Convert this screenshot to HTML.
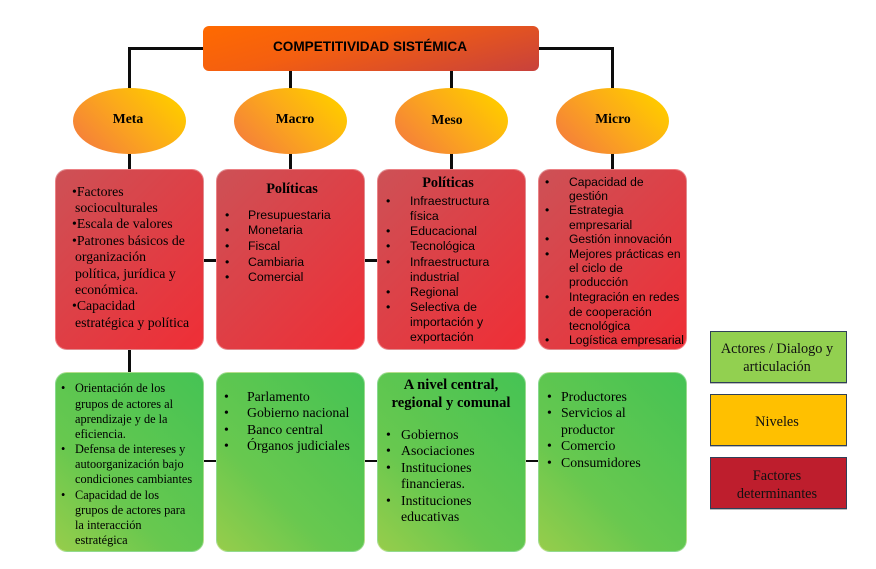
<!DOCTYPE html>
<html lang="es"><head><meta charset="utf-8"><title>Competitividad sistémica</title>
<style>
html,body{margin:0;padding:0;background:#fff;width:876px;height:569px;overflow:hidden}
#p{position:relative;width:876px;height:569px;overflow:hidden;color:#000;font-family:"Liberation Serif",serif;font-size:12.5px}
#p div{position:absolute;box-sizing:border-box}
.l{background:#0c0c0c}
.r,.g{width:149px;border-radius:12px;border:1px solid rgba(255,255,255,.35)}
.r{top:169px;height:181px;background:linear-gradient(135deg,#cd5156,#ef2e36)}
.g{top:372px;height:180px;background:linear-gradient(45deg,#97cd4b 0%,#68c84f 35%,#45c354 100%)}
.e{top:88px;width:113px;height:66px;border-radius:50%;background:linear-gradient(45deg,#f5803a 10%,#fba81c 50%,#ffc800 85%)}
.k{width:137px;border:1.5px solid #2f4058;box-shadow:0 1px 0 #bbb}
#p div.t{height:16px;line-height:16px;white-space:nowrap;margin-top:1px}
.s{font-family:"Liberation Sans",sans-serif;font-size:12.3px}
.u{font-family:"Liberation Sans",sans-serif;font-size:12.1px}
.c{transform:translateX(-50%)}
.b{font-weight:bold;font-size:14.3px}
.m{font-size:12.3px}
.n{font-size:13.8px}
.z{font-size:14.3px;color:#111}
</style></head><body><div id="p">

<div class="l" style="left:128px;top:47px;width:76px;height:3px"></div>
<div class="l" style="left:128px;top:47px;width:3px;height:42px"></div>
<div class="l" style="left:538px;top:47px;width:76px;height:3px"></div>
<div class="l" style="left:611px;top:47px;width:3px;height:42px"></div>
<div class="l" style="left:289px;top:70px;width:3px;height:19px"></div>
<div class="l" style="left:450px;top:70px;width:3px;height:19px"></div>
<div class="l" style="left:128px;top:153px;width:3px;height:17px"></div>
<div class="l" style="left:289px;top:153px;width:3px;height:17px"></div>
<div class="l" style="left:450px;top:153px;width:3px;height:17px"></div>
<div class="l" style="left:611px;top:153px;width:3px;height:17px"></div>
<div class="l" style="left:128px;top:349px;width:3px;height:24px"></div>
<div class="l" style="left:203px;top:259px;width:14px;height:3px"></div>
<div class="l" style="left:362px;top:259px;width:17px;height:3px"></div>
<div class="l" style="left:203px;top:460px;width:14px;height:2px"></div>
<div class="l" style="left:364px;top:460px;width:14px;height:2px"></div>
<div class="l" style="left:525px;top:460px;width:14px;height:2px"></div>

<div style="left:203px;top:26px;width:336px;height:45px;border-radius:6px;background:linear-gradient(165deg,#ff6a00 0%,#f45f10 40%,#c8413c 100%)"></div>
<div class="t c" style="left:370px;top:38px;font-family:'Liberation Sans',sans-serif;font-weight:bold;font-size:13.6px">COMPETITIVIDAD SISTÉMICA</div>

<div class="e" style="left:73px"></div>
<div class="e" style="left:234px"></div>
<div class="e" style="left:395px"></div>
<div class="e" style="left:556px"></div>
<div class="t c b" style="left:128px;top:110px;font-size:13.7px">Meta</div>
<div class="t c b" style="left:295px;top:110px;font-size:13.7px">Macro</div>
<div class="t c b" style="left:447px;top:111px;font-size:13.7px">Meso</div>
<div class="t c b" style="left:613px;top:110px;font-size:13.7px">Micro</div>

<div class="r" style="left:55px"></div>
<div class="r" style="left:216px"></div>
<div class="r" style="left:377px"></div>
<div class="r" style="left:538px"></div>

<div class="t n" style="left:72px;top:183px">•Factores</div>
<div class="t n" style="left:75px;top:199px">socioculturales</div>
<div class="t n" style="left:72px;top:215px">•Escala de valores</div>
<div class="t n" style="left:72px;top:232px">•Patrones básicos de</div>
<div class="t n" style="left:75px;top:248px">organización</div>
<div class="t n" style="left:75px;top:265px">política, jurídica y</div>
<div class="t n" style="left:75px;top:281px">económica.</div>
<div class="t n" style="left:72px;top:297px">•Capacidad</div>
<div class="t n" style="left:75px;top:314px">estratégica y política</div>

<div class="t c b" style="left:292px;top:180px">Políticas</div>
<div class="t s" style="left:225px;top:206px">•</div><div class="t s" style="left:248px;top:206px">Presupuestaria</div>
<div class="t s" style="left:225px;top:221px">•</div><div class="t s" style="left:248px;top:221px">Monetaria</div>
<div class="t s" style="left:225px;top:237px">•</div><div class="t s" style="left:248px;top:237px">Fiscal</div>
<div class="t s" style="left:225px;top:253px">•</div><div class="t s" style="left:248px;top:253px">Cambiaria</div>
<div class="t s" style="left:225px;top:268px">•</div><div class="t s" style="left:248px;top:268px">Comercial</div>

<div class="t c b" style="left:448px;top:174px">Políticas</div>
<div class="t s" style="left:386px;top:192px">•</div><div class="t s" style="left:410px;top:192px">Infraestructura</div>
<div class="t s" style="left:410px;top:207px">física</div>
<div class="t s" style="left:386px;top:222px">•</div><div class="t s" style="left:410px;top:222px">Educacional</div>
<div class="t s" style="left:386px;top:237px">•</div><div class="t s" style="left:410px;top:237px">Tecnológica</div>
<div class="t s" style="left:386px;top:253px">•</div><div class="t s" style="left:410px;top:253px">Infraestructura</div>
<div class="t s" style="left:410px;top:268px">industrial</div>
<div class="t s" style="left:386px;top:283px">•</div><div class="t s" style="left:410px;top:283px">Regional</div>
<div class="t s" style="left:386px;top:298px">•</div><div class="t s" style="left:410px;top:298px">Selectiva de</div>
<div class="t s" style="left:410px;top:313px">importación y</div>
<div class="t s" style="left:410px;top:328px">exportación</div>

<div class="t u" style="left:545px;top:173px">•</div><div class="t u" style="left:569px;top:173px">Capacidad de</div>
<div class="t u" style="left:569px;top:187px">gestión</div>
<div class="t u" style="left:545px;top:201px">•</div><div class="t u" style="left:569px;top:201px">Estrategia</div>
<div class="t u" style="left:569px;top:216px">empresarial</div>
<div class="t u" style="left:545px;top:230px">•</div><div class="t u" style="left:569px;top:230px">Gestión innovación</div>
<div class="t u" style="left:545px;top:245px">•</div><div class="t u" style="left:569px;top:245px">Mejores prácticas en</div>
<div class="t u" style="left:569px;top:259px">el ciclo de</div>
<div class="t u" style="left:569px;top:273px">producción</div>
<div class="t u" style="left:545px;top:288px">•</div><div class="t u" style="left:569px;top:288px">Integración en redes</div>
<div class="t u" style="left:569px;top:303px">de cooperación</div>
<div class="t u" style="left:569px;top:317px">tecnológica</div>
<div class="t u" style="left:545px;top:331px">•</div><div class="t u" style="left:569px;top:331px">Logística empresarial</div>

<div class="g" style="left:55px"></div>
<div class="g" style="left:216px"></div>
<div class="g" style="left:377px"></div>
<div class="g" style="left:538px"></div>

<div class="t m" style="left:61px;top:379px">•</div><div class="t m" style="left:75px;top:379px">Orientación de los</div>
<div class="t m" style="left:75px;top:395px">grupos de actores al</div>
<div class="t m" style="left:75px;top:410px">aprendizaje y de la</div>
<div class="t m" style="left:75px;top:425px">eficiencia.</div>
<div class="t m" style="left:61px;top:440px">•</div><div class="t m" style="left:75px;top:440px">Defensa de intereses y</div>
<div class="t m" style="left:75px;top:455px">autoorganización  bajo</div>
<div class="t m" style="left:75px;top:470px">condiciones cambiantes</div>
<div class="t m" style="left:61px;top:486px">•</div><div class="t m" style="left:75px;top:486px">Capacidad de los</div>
<div class="t m" style="left:75px;top:501px">grupos de actores para</div>
<div class="t m" style="left:75px;top:516px">la interacción</div>
<div class="t m" style="left:75px;top:531px">estratégica</div>

<div class="t n" style="left:224px;top:388px">•</div><div class="t n" style="left:247px;top:388px">Parlamento</div>
<div class="t n" style="left:224px;top:404px">•</div><div class="t n" style="left:247px;top:404px">Gobierno nacional</div>
<div class="t n" style="left:224px;top:421px">•</div><div class="t n" style="left:247px;top:421px">Banco central</div>
<div class="t n" style="left:224px;top:437px">•</div><div class="t n" style="left:247px;top:437px">Órganos judiciales</div>

<div class="t c b" style="left:451px;top:376px;font-size:14.6px">A nivel central,</div>
<div class="t c b" style="left:451px;top:394px;font-size:14.6px">regional y comunal</div>
<div class="t n" style="left:386px;top:426px">•</div><div class="t n" style="left:401px;top:426px">Gobiernos</div>
<div class="t n" style="left:386px;top:442px">•</div><div class="t n" style="left:401px;top:442px">Asociaciones</div>
<div class="t n" style="left:386px;top:459px">•</div><div class="t n" style="left:401px;top:459px">Instituciones</div>
<div class="t n" style="left:401px;top:475px">financieras.</div>
<div class="t n" style="left:386px;top:492px">•</div><div class="t n" style="left:401px;top:492px">Instituciones</div>
<div class="t n" style="left:401px;top:508px">educativas</div>

<div class="t n" style="left:547px;top:388px">•</div><div class="t n" style="left:561px;top:388px">Productores</div>
<div class="t n" style="left:547px;top:404px">•</div><div class="t n" style="left:561px;top:404px">Servicios al</div>
<div class="t n" style="left:561px;top:421px">productor</div>
<div class="t n" style="left:547px;top:437px">•</div><div class="t n" style="left:561px;top:437px">Comercio</div>
<div class="t n" style="left:547px;top:454px">•</div><div class="t n" style="left:561px;top:454px">Consumidores</div>

<div class="k" style="left:710px;top:331px;height:52px;background:#92d050"></div>
<div class="k" style="left:710px;top:394px;height:52px;background:#ffc000"></div>
<div class="k" style="left:710px;top:457px;height:52px;background:#be1e2d"></div>
<div class="t c z" style="left:777px;top:340px">Actores / Dialogo y</div>
<div class="t c z" style="left:777px;top:358px">articulación</div>
<div class="t c z" style="left:777px;top:413px">Niveles</div>
<div class="t c z" style="left:777px;top:467px">Factores</div>
<div class="t c z" style="left:777px;top:485px">determinantes</div>

</div></body></html>
